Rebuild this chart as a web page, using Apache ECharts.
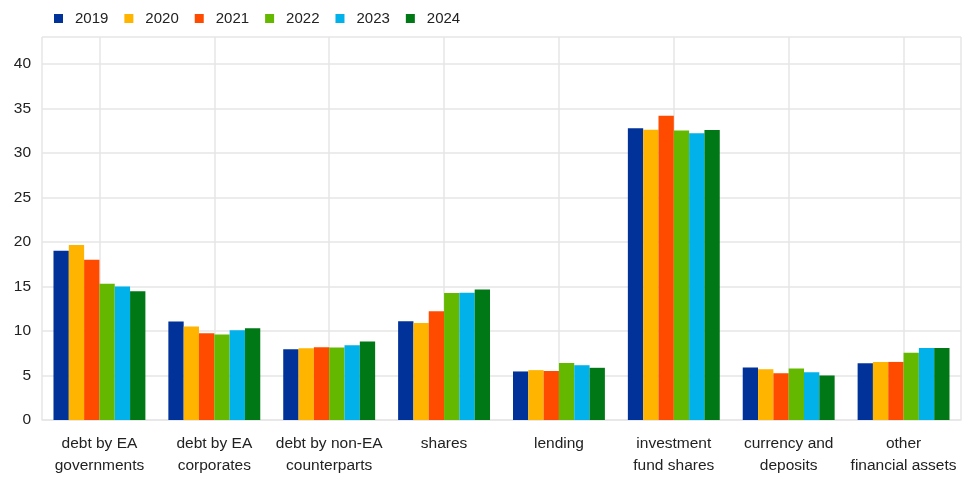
<!DOCTYPE html>
<html>
<head>
<meta charset="utf-8">
<script src="https://cdn.jsdelivr.net/npm/echarts@6/dist/echarts.min.js"></script>
<style>html,body{margin:0;padding:0;background:#fff}#c{width:970px;height:477px}</style>
</head>
<body>
<div id="c"></div>
<script>
const categories = ["debt by EA\ngovernments", "debt by EA\ncorporates", "debt by non-EA\ncounterparts", "shares", "lending", "investment\nfund shares", "currency and\ndeposits", "other\nfinancial assets"];
const years = ["2019", "2020", "2021", "2022", "2023", "2024"];
const v2019 = [19.0, 11.05, 7.95, 11.1, 5.45, 32.75, 5.9, 6.37];
const v2020 = [19.65, 10.5, 8.06, 10.9, 5.6, 32.6, 5.7, 6.52];
const v2021 = [18.0, 9.74, 8.17, 12.2, 5.5, 34.15, 5.25, 6.52];
const v2022 = [15.3, 9.6, 8.15, 14.25, 6.4, 32.5, 5.78, 7.56];
const v2023 = [15.0, 10.08, 8.4, 14.3, 6.15, 32.2, 5.36, 8.08];
const v2024 = [14.45, 10.3, 8.8, 14.65, 5.86, 32.55, 5.0, 8.08];
const yTicks = [0, 5, 10, 15, 20, 25, 30, 35, 40];
const colors = ["#003299", "#FFB400", "#FF4B00", "#65B800", "#00B1EA", "#007816"];

const seriesValues = [v2019, v2020, v2021, v2022, v2023, v2024];
const gridColor = "#e6e6e6";
const font = "Liberation Sans, Arial, sans-serif";

// helper axis for vertical gridlines at category centres
const halfSlots = [];
for (let i = 0; i <= categories.length * 2; i++) halfSlots.push(String(i));

const chart = echarts.init(document.getElementById('c'), null, {renderer: 'canvas'});
chart.setOption({
  animation: false,
  color: colors,
  textStyle: {fontFamily: font},
  legend: {
    top: 6, left: 49,
    itemWidth: 9, itemHeight: 9, itemGap: 16,
    icon: 'rect',
    textStyle: {fontSize: 15, color: '#222', fontFamily: font, padding: [0, 0, 0, 7]},
    data: years
  },
  grid: {left: 42, right: 9, top: 37, bottom: 56, containLabel: false},
  xAxis: [{
    type: 'category',
    data: categories,
    axisLine: {show: true, lineStyle: {color: gridColor, width: 1.5}},
    axisTick: {show: false},
    splitLine: {show: false},
    axisLabel: {fontSize: 15.5, color: '#222', lineHeight: 22, margin: 13, interval: 0, fontFamily: font}
  }, {
    type: 'category',
    data: halfSlots,
    boundaryGap: false,
    position: 'top',
    axisLine: {show: false},
    axisTick: {show: false},
    axisLabel: {show: false},
    splitLine: {show: true, interval: function (idx) { return idx === 0 || idx % 2 === 1 || idx === halfSlots.length - 1; }, lineStyle: {color: gridColor, width: 1.5}}
  }],
  yAxis: {
    type: 'value',
    min: 0, max: 43, interval: 5,
    axisLine: {show: false},
    axisTick: {show: false},
    splitLine: {show: true, lineStyle: {color: gridColor, width: 1.5}},
    axisLabel: {
      fontSize: 15.5, color: '#222', margin: 11, fontFamily: font,
      formatter: function (v) { return yTicks.indexOf(v) >= 0 ? String(v) : ''; }
    }
  },
  series: years.map(function (y, i) {
    return {
      name: y,
      type: 'bar',
      xAxisIndex: 0,
      data: seriesValues[i],
      barGap: '0%',
      barCategoryGap: '20%',
      itemStyle: {color: colors[i]}
    };
  })
});
</script>
</body>
</html>
